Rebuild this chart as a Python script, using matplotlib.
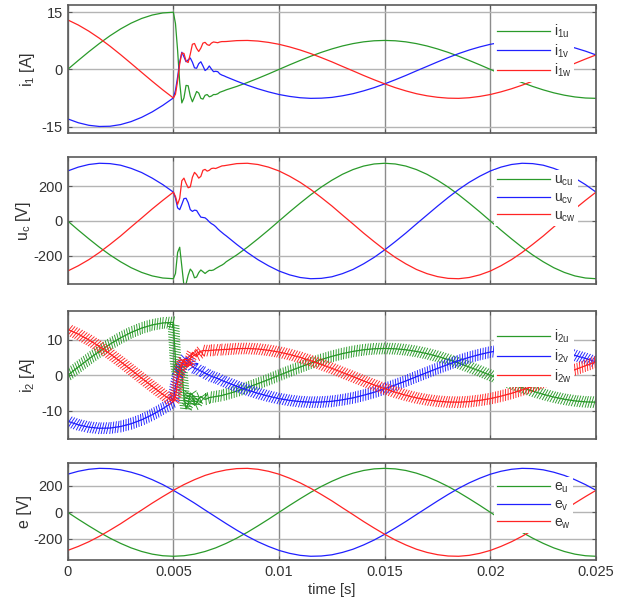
import numpy as np
import matplotlib.pyplot as plt
from matplotlib import patheffects
from matplotlib.lines import Line2D

# sample times [s]: 0.5 ms grid, with 0.1 ms steps through the switching transient
t_grid = [round(0.0005 * k, 4) for k in range(51)]
t_tr = [0.0051, 0.0052, 0.0053, 0.0054, 0.0055, 0.0056, 0.0057, 0.0058,
        0.0059, 0.0060, 0.0061, 0.0062, 0.0063, 0.0064, 0.0065, 0.0066,
        0.0067, 0.0068, 0.0069, 0.0070, 0.0071, 0.0072, 0.0073, 0.0074]
t_sw = t_grid[:11] + t_tr + t_grid[15:]

# source voltages e [V]
e_u = [0, -52, -102, -150, -194, -233, -267, -294, -314, -326, -330, -326, -314, -294, -267, -233, -194,
       -150, -102, -52, 0, 52, 102, 150, 194, 233, 267, 294, 314, 326, 330, 326, 314, 294, 267, 233, 194,
       150, 102, 52, 0, -52, -102, -150, -194, -233, -267, -294, -314, -326, -330]
e_v = [286, 308, 323, 330, 328, 319, 301, 277, 245, 208, 165, 118, 69, 17, -34, -85, -134, -180, -221,
       -256, -286, -308, -323, -330, -328, -319, -301, -277, -245, -208, -165, -118, -69, -17, 34, 85,
       134, 180, 221, 256, 286, 308, 323, 330, 328, 319, 301, 277, 245, 208, 165]
e_w = [-286, -256, -221, -180, -134, -86, -34, 17, 69, 118, 165, 208, 245, 277, 301, 318, 328, 330, 323,
       308, 286, 256, 221, 180, 134, 86, 34, -17, -69, -118, -165, -208, -245, -277, -301, -318, -328,
       -330, -323, -308, -286, -256, -221, -180, -134, -86, -34, 17, 69, 118, 165]

# capacitor voltages u_c [V] during the transient (t_tr)
ucu_tr = [-300, -180, -150, -260, -370, -360, -310, -275, -290, -325, -320, -295, -280, -290, -300, -290,
          -282, -283, -280, -272, -265, -258, -252, -244]
ucv_tr = [130, 75, 65, 95, 128, 130, 105, 65, 55, 62, 60, 40, 22, 20, 18, 8, -5, -15, -22, -32, -45, -56,
          -66, -76]
ucw_tr = [140, 95, 130, 230, 245, 215, 190, 195, 250, 278, 265, 245, 255, 290, 295, 285, 290, 300, 302, 300,
          305, 310, 315, 316]

# line currents i_1 [A]: before, during and after the transient
i1u_pre = [0, 2.35, 4.64, 6.81, 8.82, 10.61, 12.14, 13.37, 14.27, 14.82, 15.0]
i1v_pre = [-12.99, -14.0, -14.67, -14.98, -14.92, -14.49, -13.70, -12.58, -11.15, -9.44, -7.5]
i1w_pre = [12.99, 11.65, 10.03, 8.17, 6.10, 3.88, 1.56, -0.79, -3.12, -5.38, -7.5]
i1u_tr = [12.0, 5.0, -3.5, -8.8, -7.5, -4.2, -4.3, -7.0, -8.5, -7.2, -5.8, -6.2, -7.6, -7.8, -6.8, -6.6,
          -7.2, -7.0, -6.6, -6.6, -6.4, -6.0, -5.8, -5.6]
i1v_tr = [-5.5, -2.0, 2.0, 4.5, 3.3, 2.0, 2.5, 3.0, 1.9, 0.4, 0.3, 1.5, 2.0, 0.9, -0.3, 0.1, 0.9, 0.1, -0.6,
          -0.5, -0.6, -1.2, -1.5, -1.7]
i1w_tr = [-6.5, -3.0, 1.5, 4.3, 4.2, 2.2, 1.8, 4.0, 6.6, 6.8, 5.5, 4.7, 5.6, 6.9, 7.1, 6.5, 6.3, 6.9, 7.2,
          7.1, 7.0, 7.2, 7.3, 7.3]
i1u_post = [-5.37, -4.47, -3.45, -2.35, -1.20, 0, 1.20, 2.35, 3.45, 4.47, 5.37, 6.15, 6.77, 7.23, 7.51, 7.60,
            7.51, 7.23, 6.77, 6.15, 5.37, 4.47, 3.45, 2.35, 1.20, 0, -1.20, -2.35, -3.45, -4.47, -5.37,
            -6.15, -6.77, -7.23, -7.51, -7.60]
i1v_post = [-1.96, -3.09, -4.15, -5.09, -5.90, -6.59, -7.09, -7.44, -7.60, -7.55, -7.35, -6.93, -6.38,
            -5.64, -4.79, -3.80, -2.72, -1.59, -0.39, 0.78, 1.96, 3.09, 4.15, 5.09, 5.90, 6.59, 7.09, 7.44,
            7.60, 7.55, 7.35, 6.93, 6.38, 5.64, 4.79, 3.80]
i1w_post = [7.32, 7.55, 7.60, 7.44, 7.09, 6.59, 5.90, 5.09, 4.15, 3.09, 1.98, 0.78, -0.39, -1.59, -2.72,
            -3.80, -4.79, -5.64, -6.38, -6.93, -7.32, -7.55, -7.60, -7.44, -7.09, -6.59, -5.90, -5.09,
            -4.15, -3.09, -1.98, -0.78, 0.39, 1.59, 2.72, 3.80]

# inverter-side currents i_2 [A] during the transient (mean value, ripple drawn as ticks)
i2u_tr = [4.0, 0.0, 3.0, 1.0, -6.0, -9.5, -8.0, -5.0, -5.5, -8.5, -8.0, -6.5, -6.0, -6.5, -6.8, -6.6,
          -6.3, -6.2, -6.1, -6.0, -5.9, -5.8, -5.7, -5.5]
i2v_tr = [-3.0, 0.0, 1.0, 2.5, 4.0, 5.0, 4.5, 3.5, 2.5, 2.0, 1.8, 1.5, 1.2, 1.0, 0.6, 0.3, 0.0, -0.3, -0.5,
          -0.7, -0.9, -1.2, -1.5, -1.7]
i2w_tr = [-6.0, -2.0, 1.0, 3.5, 4.5, 3.0, 2.5, 4.5, 6.5, 6.0, 5.5, 6.0, 6.8, 7.0, 7.0, 7.0, 7.0, 7.1, 7.1,
          7.2, 7.2, 7.2, 7.3, 7.3]

green, blue, red = '#2a9a2a', '#2020ff', '#ff2424'
txt = '#333333'

panels = [
    dict(t=t_sw, ys=[i1u_pre + i1u_tr + i1u_post, i1v_pre + i1v_tr + i1v_post, i1w_pre + i1w_tr + i1w_post],
         ylabel=r'$\mathregular{i_1}$ [A]', names=['1u', '1v', '1w'], base='i',
         ylim=(-16.7, 16.9), yticks=[-15, 0, 15], ripple=False),
    dict(t=t_sw, ys=[e_u[:11] + ucu_tr + e_u[15:], e_v[:11] + ucv_tr + e_v[15:], e_w[:11] + ucw_tr + e_w[15:]],
         ylabel=r'$\mathregular{u_c}$ [V]', names=['cu', 'cv', 'cw'], base='u',
         ylim=(-362, 364), yticks=[-200, 0, 200], ripple=False),
    dict(t=t_sw, ys=[i1u_pre + i2u_tr + i1u_post, i1v_pre + i2v_tr + i1v_post, i1w_pre + i2w_tr + i1w_post],
         ylabel=r'$\mathregular{i_2}$ [A]', names=['2u', '2v', '2w'], base='i',
         ylim=(-18.1, 18.3), yticks=[-10, 0, 10], ripple=True),
    dict(t=t_grid, ys=[e_u, e_v, e_w],
         ylabel='e [V]', names=['u', 'v', 'w'], base='e',
         ylim=(-358, 368), yticks=[-200, 0, 200], ripple=False),
]

rects = [(0.1068, 0.7794, 0.8333, 0.2123),
         (0.1068, 0.5285, 0.8333, 0.2106),
         (0.1068, 0.2715, 0.8333, 0.2133),
         (0.1068, 0.0713, 0.8333, 0.1604)]
legend_top = [0.885, 0.90, 0.889, 0.858]
label_x = [-0.058, -0.066, -0.058, -0.068]

plt.rcParams['font.family'] = ['Liberation Sans', 'DejaVu Sans']
plt.rcParams['mathtext.fontset'] = 'custom'
plt.rcParams['mathtext.rm'] = 'Liberation Sans'
plt.rcParams['axes.unicode_minus'] = False

fig = plt.figure(figsize=(6.34, 6.03), dpi=100)

# PWM ripple on i_2, drawn as short slanted strokes across the mean curve
ripple_fx = [patheffects.Normal(),
             patheffects.TickedStroke(spacing=1.9, angle=75, length=2.1, linewidth=0.65),
             patheffects.TickedStroke(spacing=1.9, angle=-105, length=2.1, linewidth=0.65)]

for n, p in enumerate(panels):
    ax = fig.add_axes(rects[n])
    for y, c in zip(p['ys'], [green, blue, red]):
        line, = ax.plot(p['t'], y, color=c, lw=0.9)
        if p['ripple']:
            line.set_path_effects(ripple_fx)

    ax.set_xlim(0, 0.025)
    ax.set_ylim(*p['ylim'])
    ax.set_yticks(p['yticks'])
    ax.set_xticks([0, 0.005, 0.01, 0.015, 0.02, 0.025])
    ax.set_xticklabels(['0', '0.005', '0.01', '0.015', '0.02', '0.025'])
    ax.set_axisbelow(True)
    ax.xaxis.grid(True, color='#8c8c8c', lw=1.0)
    ax.yaxis.grid(True, color='#b4b4b4', lw=1.0)
    for s in ax.spines.values():
        s.set_color('#5a5a5a')
        s.set_linewidth(1.2)
    ax.tick_params(direction='in', top=True, right=True, length=3, width=0.8, color='#5a5a5a',
                   labelsize=10.5, labelcolor=txt, pad=3.5)
    if n < 3:
        ax.tick_params(labelbottom=False)
    else:
        ax.set_xlabel('time [s]', fontsize=10.5, color=txt, labelpad=3)

    ax.set_ylabel(p['ylabel'], fontsize=11.5, color=txt)
    ax.yaxis.set_label_coords(label_x[n], 0.5)

    handles = [Line2D([], [], color=c, lw=0.9) for c in [green, blue, red]]
    labels = [r'$\mathregular{%s_{%s}}$' % (p['base'], s) for s in p['names']]
    leg = ax.legend(handles, labels, loc='upper left', bbox_to_anchor=(0.807, legend_top[n]),
                    borderaxespad=0, frameon=True, fancybox=False, framealpha=1,
                    facecolor='white', edgecolor='none', fontsize=10,
                    handlelength=3.8, handletextpad=0.3, borderpad=0.2, labelspacing=0.17)
    for t in leg.get_texts():
        t.set_color(txt)

fig.savefig('out.png', dpi=100)
